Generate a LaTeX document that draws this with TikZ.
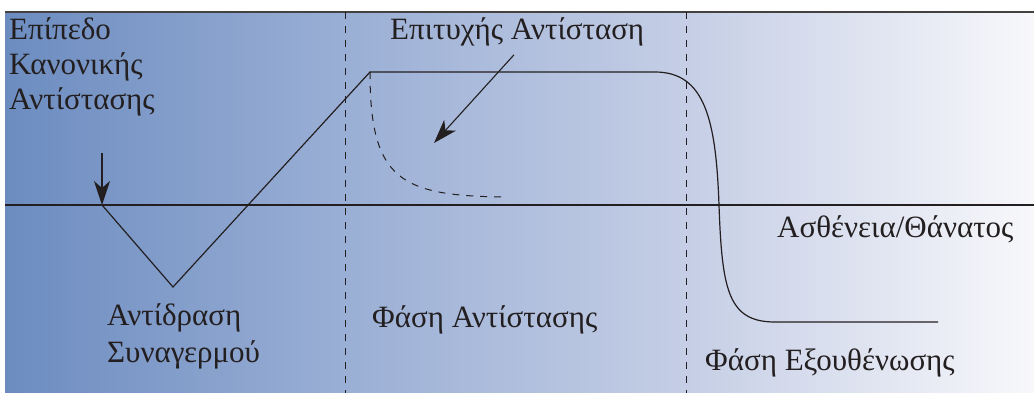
\documentclass[tikz,border=0pt]{standalone}
\usepackage{fontspec}
\setmainfont{Liberation Serif}
\usepackage{tikz}
\usetikzlibrary{arrows.meta, positioning, calc}
\usepackage{xcolor}
\definecolor{gasink}{HTML}{231F20}
\definecolor{gasleft}{HTML}{6C8CC0}
\definecolor{gasmid}{HTML}{9AAFD5}
\definecolor{gasright}{HTML}{C6CFE6}
\definecolor{gasend}{HTML}{F8F8FB}
\pgfdeclarehorizontalshading{gasbg}{100bp}{color(0bp)=(gasleft); color(25bp)=(gasleft);
  color(41.5bp)=(gasmid); color(58.5bp)=(gasright); color(75bp)=(gasend); color(100bp)=(gasend)}

\tikzset{
  label/.style={font=\fontsize{31}{36}\selectfont, text=gasink, inner sep=0pt, anchor=base west},
  curve/.style={draw=gasink, line width=1.2pt},
  phase/.style={draw=gasink, line width=1pt, dash pattern=on 7pt off 7pt},
  pointer/.style={draw=gasink, line width=1.1pt, -{Stealth[length=24pt, width=16pt, inset=7pt]}}
}

\begin{document}
\begin{tikzpicture}[x=1pt, y=-1pt]
  \useasboundingbox (0,0) rectangle (1034,393);
  \shade[shading=gasbg] (5,12) rectangle (1034,393);

    % axes and phase borders
    \draw[line width=2pt, draw=gasink!85] (5,12) -- (1034,12);
    \draw[line width=1.3pt, draw=gasink] (5,205) -- (1034,205);
    \draw[phase] (345,12) -- (345,393);
    \draw[phase] (686,12) -- (686,393);

    % resistance curve
    \coordinate (alarm) at (102,205);
    \coordinate (low) at (173,287);
    \coordinate (peak) at (370,72);
    \coordinate (fall) at (655,72);
    \coordinate (cross) at (719,205);
    \coordinate (floor) at (775,322);
    \coordinate (stop) at (938,322);
    \draw[curve] (alarm) -- (low) -- (peak) -- (fall)
      .. controls (705,72) and (716,120) .. (cross)
      .. controls (722,290) and (728,322) .. (floor) -- (stop);
    \coordinate (relax) at (506,197);
    \draw[phase] (peak) .. controls (370,180) and (400,196) .. (relax);

    % labels
    \node[label] (normal1) at (9,40) {Επίπεδο};
    \node[label] (normal2) at (9,75) {Κανονικής};
    \node[label] (normal3) at (9,110) {Αντίστασης};
    \node[label] (success) at (390,40) {Επιτυχής Αντίσταση};
    \node[label] (death) at (777,237) {Ασθένεια/Θάνατος};
    \node[label] (react1) at (107,325) {Αντίδραση};
    \node[label] (react2) at (107,362) {Συναγερμού};
    \node[label] (resist) at (372,327) {Φάση Αντίστασης};
    \node[label] (exhaust) at (705,370) {Φάση Εξουθένωσης};

    \coordinate (alarmtop) at (102,153);
    \coordinate (successtip) at (434,143);
    \draw[pointer] (alarmtop) -- (alarm);
    \draw[pointer] (success.south -| 514,0) ++(0,8) -- (successtip);
  \end{tikzpicture}
\end{document}
